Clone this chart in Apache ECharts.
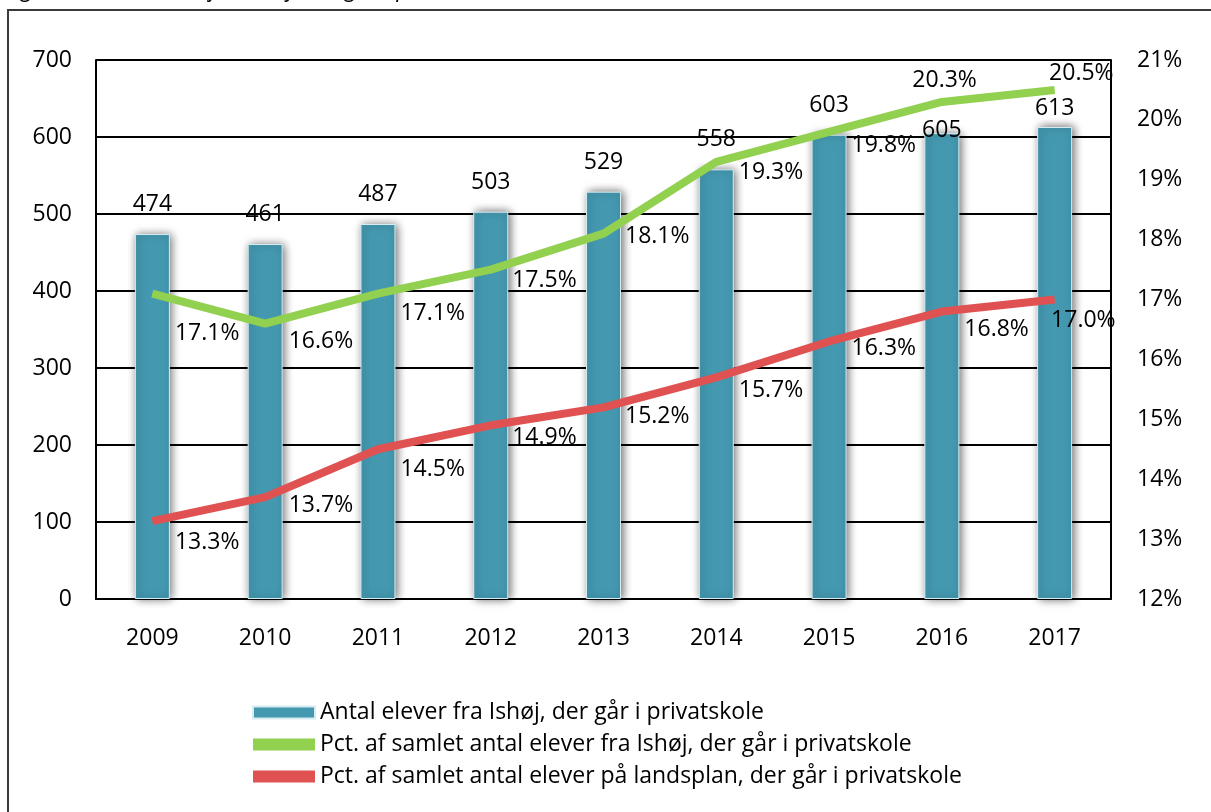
<!DOCTYPE html>
<html>
	<head>
		<meta charset="utf-8">
		<title>Privatskole</title>
		<script src="https://cdn.jsdelivr.net/npm/echarts@6/dist/echarts.min.js"></script>
	</head>
	<style type="text/css">
		html, body { margin: 0; padding: 0; background: #fff; }
		#main { width: 1211px; height: 812px; }
	</style>
	<body>
		<div id="main"></div>
		<script type="text/javascript">
			// data
			var years = ['2009', '2010', '2011', '2012', '2013', '2014', '2015', '2016', '2017'];
			var antalElever = [474, 461, 487, 503, 529, 558, 603, 605, 613];
			var pctIshoj = [17.1, 16.6, 17.1, 17.5, 18.1, 19.3, 19.8, 20.3, 20.5];
			var pctLandsplan = [13.3, 13.7, 14.5, 14.9, 15.2, 15.7, 16.3, 16.8, 17.0];

			var seriesNames = [
				'Antal elever fra Ishøj, der går i privatskole',
				'Pct. af samlet antal elever fra Ishøj, der går i privatskole',
				'Pct. af samlet antal elever på landsplan, der går i privatskole'
			];

			var font = '"Open Sans", sans-serif';

			// label offsets (Excel moved a few of them by hand)
			var barOffsets = [0, 0, 0, 0, 0, 0, 0, 27, 11];
			var greenOffsets = [[22, 40], [23, 18], [22, 20], [21, 11], [21, 3], [22, 11], [22, 14], [-30, -21], [-6, -16]];
			var redOffsets = [[22, 21], [23, 8], [22, 20], [21, 12], [21, 9], [22, 13], [22, 7], [22, 18], [-4, 21]];

			function lineData(values, offsets) {
				var out = [];
				for (var i = 0; i < values.length; i++) {
					out.push({ value: values[i], label: { offset: offsets[i] } });
				}
				return out;
			}

			var barData = [];
			for (var i = 0; i < antalElever.length; i++) {
				barData.push({ value: antalElever[i], label: { offset: [0, barOffsets[i]] } });
			}

			var myChart = echarts.init(document.getElementById('main'));
			myChart.setOption({
				animation: false,
				textStyle: { fontFamily: font },
				graphic: [
					{
						type: 'rect',
						shape: { x: 8, y: 10, width: 1400, height: 1000 },
						style: { fill: 'none', stroke: '#3a3a3a', lineWidth: 2 },
						z: 0
					},
					{
						type: 'text',
						left: 4,
						top: -22,
						style: {
							text: 'Figur 2: Antal elever fra Ishøj, der går i privatskole, 2009-2017',
							font: 'italic 23px "Open Sans", sans-serif',
							fill: '#000'
						}
					}
				],
				grid: { left: 96, right: 100, top: 60, bottom: 213 },
				legend: {
					orient: 'vertical',
					left: 247,
					top: 696,
					itemWidth: 62,
					itemHeight: 12,
					itemGap: 9,
					icon: 'rect',
					textStyle: { fontSize: 23, color: '#000', fontFamily: font },
					data: seriesNames
				},
				xAxis: {
					type: 'category',
					data: years,
					axisLine: { lineStyle: { color: '#000', width: 2 } },
					axisTick: { show: false },
					axisLabel: { color: '#000', fontSize: 23, margin: 28 }
				},
				yAxis: [
					{
						type: 'value',
						min: 0,
						max: 700,
						interval: 100,
						axisLine: { show: true, lineStyle: { color: '#000', width: 2 } },
						axisTick: { show: false },
						axisLabel: { color: '#000', fontSize: 23, margin: 24 },
						splitLine: { lineStyle: { color: '#000', width: 2 } }
					},
					{
						type: 'value',
						min: 12,
						max: 21,
						interval: 1,
						axisLine: { show: true, lineStyle: { color: '#000', width: 2 } },
						axisTick: { show: false },
						axisLabel: { color: '#000', fontSize: 23, margin: 26, formatter: '{value}%' },
						splitLine: { show: false }
					}
				],
				series: [
					{
						name: seriesNames[0],
						type: 'bar',
						barWidth: 35,
						data: barData,
						itemStyle: {
							color: '#4499b1',
							borderColor: '#d6ecf2',
							borderWidth: 1,
							shadowColor: 'rgba(0,0,0,0.6)',
							shadowBlur: 9,
							shadowOffsetX: 2
						},
						label: {
							show: true,
							position: 'top',
							distance: 18,
							color: '#000',
							fontSize: 23
						},
						z: 2
					},
					{
						name: seriesNames[1],
						type: 'line',
						yAxisIndex: 1,
						data: lineData(pctIshoj, greenOffsets),
						symbol: 'circle',
						symbolSize: 1,
						lineStyle: { color: '#92d050', width: 8 },
						itemStyle: { color: '#92d050' },
						label: {
							show: true,
							position: 'right',
							distance: 0,
							color: '#000',
							fontSize: 23,
							formatter: function(p) { return p.value.toFixed(1) + '%'; }
						},
						z: 3
					},
					{
						name: seriesNames[2],
						type: 'line',
						yAxisIndex: 1,
						data: lineData(pctLandsplan, redOffsets),
						symbol: 'circle',
						symbolSize: 1,
						lineStyle: { color: '#e05252', width: 8 },
						itemStyle: { color: '#e05252' },
						label: {
							show: true,
							position: 'right',
							distance: 0,
							color: '#000',
							fontSize: 23,
							formatter: function(p) { return p.value.toFixed(1) + '%'; }
						},
						z: 3
					}
				]
			});
		</script>
	</body>
</html>
